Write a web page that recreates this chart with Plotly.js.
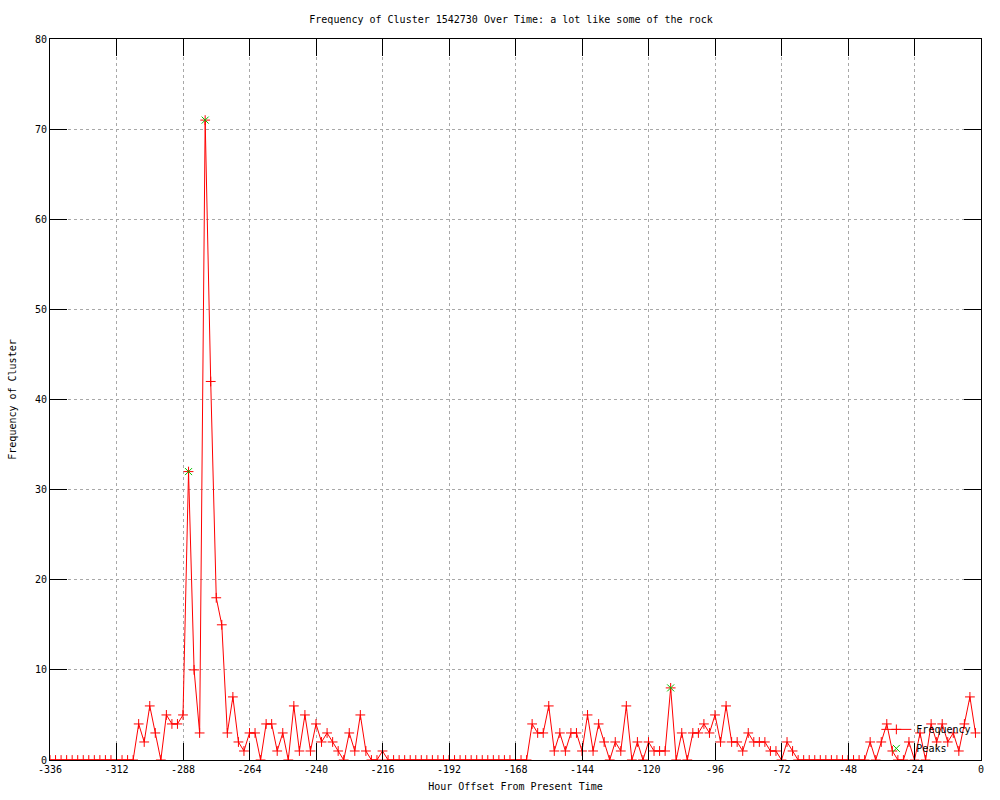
<!DOCTYPE html>
<html>
<head>
<meta charset="utf-8">
<script src="https://cdn.plot.ly/plotly-3.0.1.min.js"></script>
<style>html,body{margin:0;padding:0;background:#fff;}#chart{width:1000px;height:800px;}</style>
</head>
<body>
<div id="chart"></div>
<script>
// Hour offsets (2-hour bins)
const hours = [
  -336,-334,-332,-330,-328,-326,-324,-322,-320,-318,
  -316,-314,-312,-310,-308,-306,-304,-302,-300,-298,
  -296,-294,-292,-290,-288,-286,-284,-282,-280,-278,
  -276,-274,-272,-270,-268,-266,-264,-262,-260,-258,
  -256,-254,-252,-250,-248,-246,-244,-242,-240,-238,
  -236,-234,-232,-230,-228,-226,-224,-222,-220,-218,
  -216,-214,-212,-210,-208,-206,-204,-202,-200,-198,
  -196,-194,-192,-190,-188,-186,-184,-182,-180,-178,
  -176,-174,-172,-170,-168,-166,-164,-162,-160,-158,
  -156,-154,-152,-150,-148,-146,-144,-142,-140,-138,
  -136,-134,-132,-130,-128,-126,-124,-122,-120,-118,
  -116,-114,-112,-110,-108,-106,-104,-102,-100,-98,
  -96,-94,-92,-90,-88,-86,-84,-82,-80,-78,
  -76,-74,-72,-70,-68,-66,-64,-62,-60,-58,
  -56,-54,-52,-50,-48,-46,-44,-42,-40,-38,
  -36,-34,-32,-30,-28,-26,-24,-22,-20,-18,
  -16,-14,-12,-10,-8,-6,-4,-2
];
// Frequency of cluster per bin
const frequency = [
  0,0,0,0,0,0,0,0,0,0,
  0,0,0,0,0,0,4,2,6,3,
  0,5,4,4,5,32,10,3,71,42,
  18,15,3,7,2,1,3,3,0,4,
  4,1,3,0,6,1,5,1,4,2,
  3,2,1,0,3,1,5,1,0,0,
  1,0,0,0,0,0,0,0,0,0,
  0,0,0,0,0,0,0,0,0,0,
  0,0,0,0,0,0,0,4,3,3,
  6,1,3,1,3,3,1,5,1,4,
  2,0,2,1,6,0,2,0,2,1,
  1,1,8,0,3,0,3,3,4,3,
  5,2,6,2,2,1,3,2,2,2,
  1,1,0,2,1,0,0,0,0,0,
  0,0,0,0,0,0,0,0,2,0,
  2,4,1,0,0,2,0,3,0,4,
  2,4,2,3,1,4,7,3
];
// Detected peaks
const peakHours = [-286, -280, -112];
const peakValues = [32, 71, 8];

// Axis ticks
const xTickVals = [-336,-312,-288,-264,-240,-216,-192,-168,-144,-120,-96,-72,-48,-24,0];
const xTickText = ["-336","-312","-288","-264","-240","-216","-192","-168","-144","-120","-96","-72","-48","-24","0"];
const yTickVals = [0,10,20,30,40,50,60,70,80];
const yTickText = ["0","10","20","30","40","50","60","70","80"];

const FONT = '"DejaVu Sans Mono", "Liberation Mono", monospace';

const traces = [
  {
    x: hours, y: frequency, name: 'Frequency', type: 'scatter', mode: 'lines+markers',
    line: {color: '#ff0000', width: 1},
    marker: {symbol: 'cross-thin-open', size: 7, line: {color: '#ff0000', width: 1}, color: '#ff0000'}
  },
  {
    x: peakHours, y: peakValues, name: 'Peaks', type: 'scatter', mode: 'markers',
    marker: {symbol: 'x-thin-open', size: 7, line: {color: '#00c000', width: 1}, color: '#00c000'}
  }
];

const axisCommon = {
  showline: true, linecolor: '#000', linewidth: 1, mirror: 'ticks',
  ticks: 'inside', ticklen: 17, tickwidth: 1, tickcolor: '#000',
  showgrid: true, gridcolor: '#a8a8a8', griddash: 'dot', gridwidth: 1,
  zeroline: false, tickfont: {family: FONT, size: 10, color: '#000'},
  tickmode: 'array'
};

const layout = {
  width: 1000, height: 800,
  paper_bgcolor: '#fff', plot_bgcolor: '#fff',
  margin: {l: 50, r: 19, t: 39, b: 40},
  title: {text: 'Frequency of Cluster 1542730 Over Time: a lot like some of the rock',
          font: {family: FONT, size: 10, color: '#000'},
          x: 0.511, xref: 'container', xanchor: 'center', y: 0.976, yref: 'container', yanchor: 'middle'},
  xaxis: Object.assign({}, axisCommon, {
    range: [-336, 0], tickvals: xTickVals, ticktext: xTickText,
    title: {text: 'Hour Offset From Present Time', font: {family: FONT, size: 10, color: '#000'}, standoff: 8}
  }),
  yaxis: Object.assign({}, axisCommon, {
    range: [0, 80], tickvals: yTickVals, ticktext: yTickText,
    title: {text: 'Frequency of Cluster', font: {family: FONT, size: 10, color: '#000'}, standoff: 16}
  }),
  showlegend: true,
  legend: {x: 0.995, xanchor: 'right', y: -0.004, yanchor: 'bottom', bgcolor: 'rgba(0,0,0,0)',
           font: {family: FONT, size: 10, color: '#000'}, itemwidth: 30, tracegroupgap: 0},
  font: {family: FONT, size: 10, color: '#000'}
};

Plotly.newPlot('chart', traces, layout, {displayModeBar: false, staticPlot: true});
</script>
</body>
</html>
